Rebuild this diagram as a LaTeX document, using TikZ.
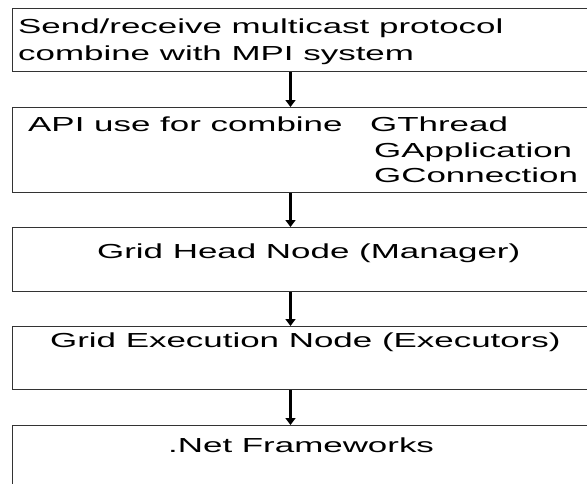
\documentclass[tikz,border=0pt]{standalone}
\usepackage{fontspec}
\setmainfont{Liberation Sans}[FakeStretch=1.72]
\usetikzlibrary{arrows.meta}

\begin{document}
\begin{tikzpicture}[x=1pt,y=-1pt,
  layer/.style={draw=black!80,line width=1.3pt,anchor=north west,inner sep=0pt,minimum width=600pt},
  txt/.style={anchor=base west,inner sep=0pt,font=\fontsize{20.3}{24}\selectfont},
  flow/.style={-{Triangle[length=7pt,width=10pt]},line width=2.3pt}]
\path[use as bounding box,clip] (0,0) rectangle (587,483);

 \node[layer,minimum height=63pt] (send) at (11.5,8) {};
 \node[layer,minimum height=85pt] (api) at (11.5,107) {};
 \node[layer,minimum height=64pt] (head) at (11.5,227) {};
 \node[layer,minimum height=63pt] (exec) at (11.5,326) {};
 \node[layer,minimum height=100pt] (net) at (11.5,425) {};

 \node[txt] (send1) at (18,33.3) {Send/receive multicast protocol};
 \node[txt] (send2) at (18,60) {combine with MPI system};
 \node[txt] (api1) at (28,131.5) {API use for combine};
 \node[txt] (gthread) at (370,131.5) {GThread};
 \node[txt] (gapp) at (374,157) {GApplication};
 \node[txt] (gconn) at (374,182) {GConnection};
 \node[txt] (head1) at (97,258) {Grid Head Node (Manager)};
 \node[txt] (exec1) at (50,347) {Grid Execution Node (Executors)};
 \node[txt] (net1) at (168,452) {.Net Frameworks};

 \coordinate (ax) at (290.5,0);
 \draw[flow] (send.south -| ax) -- (api.north -| ax);
 \draw[flow] (api.south -| ax) -- (head.north -| ax);
 \draw[flow] (head.south -| ax) -- (exec.north -| ax);
 \draw[flow] (exec.south -| ax) -- (net.north -| ax);

\end{tikzpicture}
\end{document}
